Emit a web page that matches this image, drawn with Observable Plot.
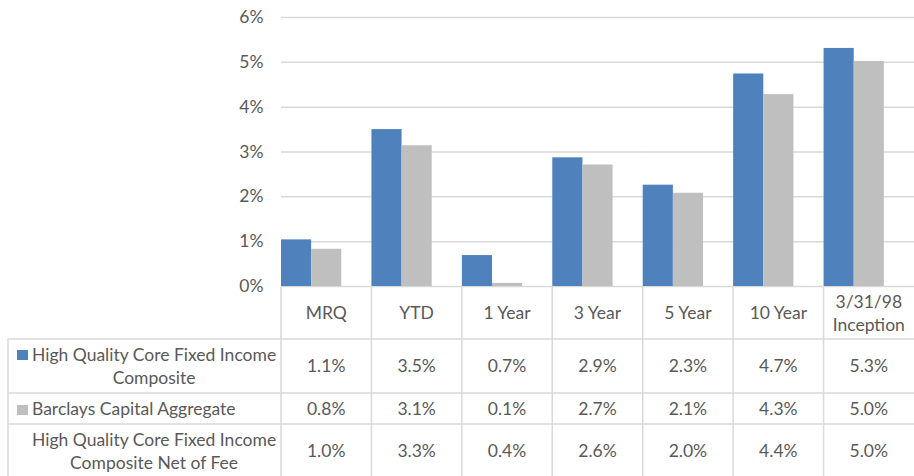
<!DOCTYPE html>
<html>
<head>
<meta charset="utf-8">
<script src="https://cdn.jsdelivr.net/npm/d3@7"></script>
<script src="https://cdn.jsdelivr.net/npm/@observablehq/plot@0.6"></script>
<style>
  html, body { margin: 0; padding: 0; background: #fff; }
  #wrap { position: relative; width: 914px; height: 476px; overflow: hidden; background: #fff; }
  .cell { position: absolute; display: flex; align-items: center; justify-content: center; text-align: center; white-space: pre-line; color: #595959; }
  .lcell { position: absolute; display: flex; align-items: center; color: #595959; }
  .lcell > div { display: inline-block; text-align: center; white-space: pre-line; }
  .swatch { position: absolute; }
</style>
</head>
<body>
<div id="wrap"></div>
<script>
// ---- data ----
const categories = ["MRQ", "YTD", "1 Year", "3 Year", "5 Year", "10 Year", "3/31/98\nInception"];
const seriesNames = [
  "High Quality Core Fixed Income\nComposite",
  "Barclays Capital Aggregate",
  "High Quality Core Fixed Income\nComposite Net of Fee"
];
// bar heights (percent)
const compositeBars = [1.04, 3.50, 0.69, 2.87, 2.26, 4.74, 5.31];
const barclaysBars  = [0.83, 3.14, 0.07, 2.71, 2.08, 4.28, 5.02];
// values printed in the data table (percent)
const compositeTable = [1.1, 3.5, 0.7, 2.9, 2.3, 4.7, 5.3];
const barclaysTable  = [0.8, 3.1, 0.1, 2.7, 2.1, 4.3, 5.0];
const netOfFeeTable  = [1.0, 3.3, 0.4, 2.6, 2.0, 4.4, 5.0];
const yTicks = [0, 1, 2, 3, 4, 5, 6];
const seriesColors = ["#4F81BD", "#BFBFBF"];

// ---- style ----
const FONT = "Lato, 'Open Sans', 'DejaVu Sans', sans-serif";
const FONT_SIZE = 17.5;
const TEXT = "#595959";
const LINE = "#D9D9D9";

const barData = categories.flatMap((c, i) => [
  {category: c, series: seriesNames[0], value: compositeBars[i]},
  {category: c, series: seriesNames[1], value: barclaysBars[i]}
]);

const chart = Plot.plot({
  width: 914,
  height: 300,
  marginLeft: 281,
  marginRight: 0,
  marginTop: 17,
  marginBottom: 14,
  style: {fontFamily: FONT, fontSize: FONT_SIZE + "px", color: TEXT, background: "transparent", overflow: "visible"},
  fx: {domain: categories, padding: 0, round: false, axis: null, label: null},
  x: {domain: seriesNames.slice(0, 2), paddingInner: 0, paddingOuter: 0.5, align: 0, round: false, axis: null},
  y: {domain: [0, 6], ticks: 6, tickSize: 0, tickPadding: 18, tickFormat: d => d + "%", label: null},
  color: {domain: seriesNames.slice(0, 2), range: seriesColors},
  marks: [
    Plot.ruleY(yTicks, {stroke: LINE, strokeWidth: 1.5}),
    Plot.barY(barData, {fx: "category", x: "series", y: "value", fill: "series"})
  ]
});

const wrap = document.getElementById("wrap");
chart.style.position = "absolute";
chart.style.left = "0px";
chart.style.top = "0px";
wrap.appendChild(chart);

// ---- data table below the chart, aligned with the chart's fx scale ----
const fx = chart.scale("fx");
const bw = fx.bandwidth;
const colLeft = categories.map(c => fx.apply(c));
const tableLeft = 8, textLeft = 32, tableRight = 914;
const rowTops = [287, 339, 393, 424];
const rowBottoms = [339, 393, 424, 478];
const LINE_H = 23.5;
const rows = [compositeTable, barclaysTable, netOfFeeTable];
const fmt = d3.format(".1f");

const lines = d3.select(wrap).append("svg")
  .attr("width", 914).attr("height", 476)
  .style("position", "absolute").style("left", "0px").style("top", "0px");

// horizontal lines
[339, 393, 424, 478].forEach(y => {
  lines.append("line").attr("x1", tableLeft).attr("x2", tableRight)
    .attr("y1", y).attr("y2", y).attr("stroke", LINE).attr("stroke-width", 1.5);
});
// left border of series column
lines.append("line").attr("x1", tableLeft).attr("x2", tableLeft)
  .attr("y1", rowTops[1]).attr("y2", rowBottoms[3]).attr("stroke", LINE).attr("stroke-width", 1.5);
// column separators
colLeft.forEach(x => {
  lines.append("line").attr("x1", x).attr("x2", x)
    .attr("y1", rowTops[0]).attr("y2", rowBottoms[3]).attr("stroke", LINE).attr("stroke-width", 1.5);
});

function addCell(text, left, top, width, height) {
  const d = document.createElement("div");
  d.className = "cell";
  Object.assign(d.style, {
    left: left + "px", top: top + "px", width: width + "px", height: height + "px",
    fontFamily: FONT, fontSize: FONT_SIZE + "px", lineHeight: LINE_H + "px"
  });
  d.textContent = text;
  wrap.appendChild(d);
}

// header row
categories.forEach((c, i) => addCell(c, colLeft[i], rowTops[0], bw, rowBottoms[0] - rowTops[0]));

// data rows
rows.forEach((vals, r) => {
  const top = rowTops[r + 1], h = rowBottoms[r + 1] - top;
  vals.forEach((v, i) => addCell(fmt(v) + "%", colLeft[i], top, bw, h));
  // series label
  const lc = document.createElement("div");
  lc.className = "lcell";
  Object.assign(lc.style, {
    left: textLeft + "px", top: top + "px", height: h + "px",
    fontFamily: FONT, fontSize: FONT_SIZE + "px", lineHeight: LINE_H + "px"
  });
  const inner = document.createElement("div");
  inner.textContent = seriesNames[r];
  lc.appendChild(inner);
  wrap.appendChild(lc);
  // legend key
  if (r < seriesColors.length) {
    const nLines = seriesNames[r].split("\n").length;
    const firstCenter = top + h / 2 - (nLines - 1) * LINE_H / 2;
    const sw = document.createElement("div");
    sw.className = "swatch";
    Object.assign(sw.style, {
      left: "17px", top: (firstCenter - 4) + "px", width: "11px", height: "10px",
      background: seriesColors[r]
    });
    wrap.appendChild(sw);
  }
});
</script>
</body>
</html>
